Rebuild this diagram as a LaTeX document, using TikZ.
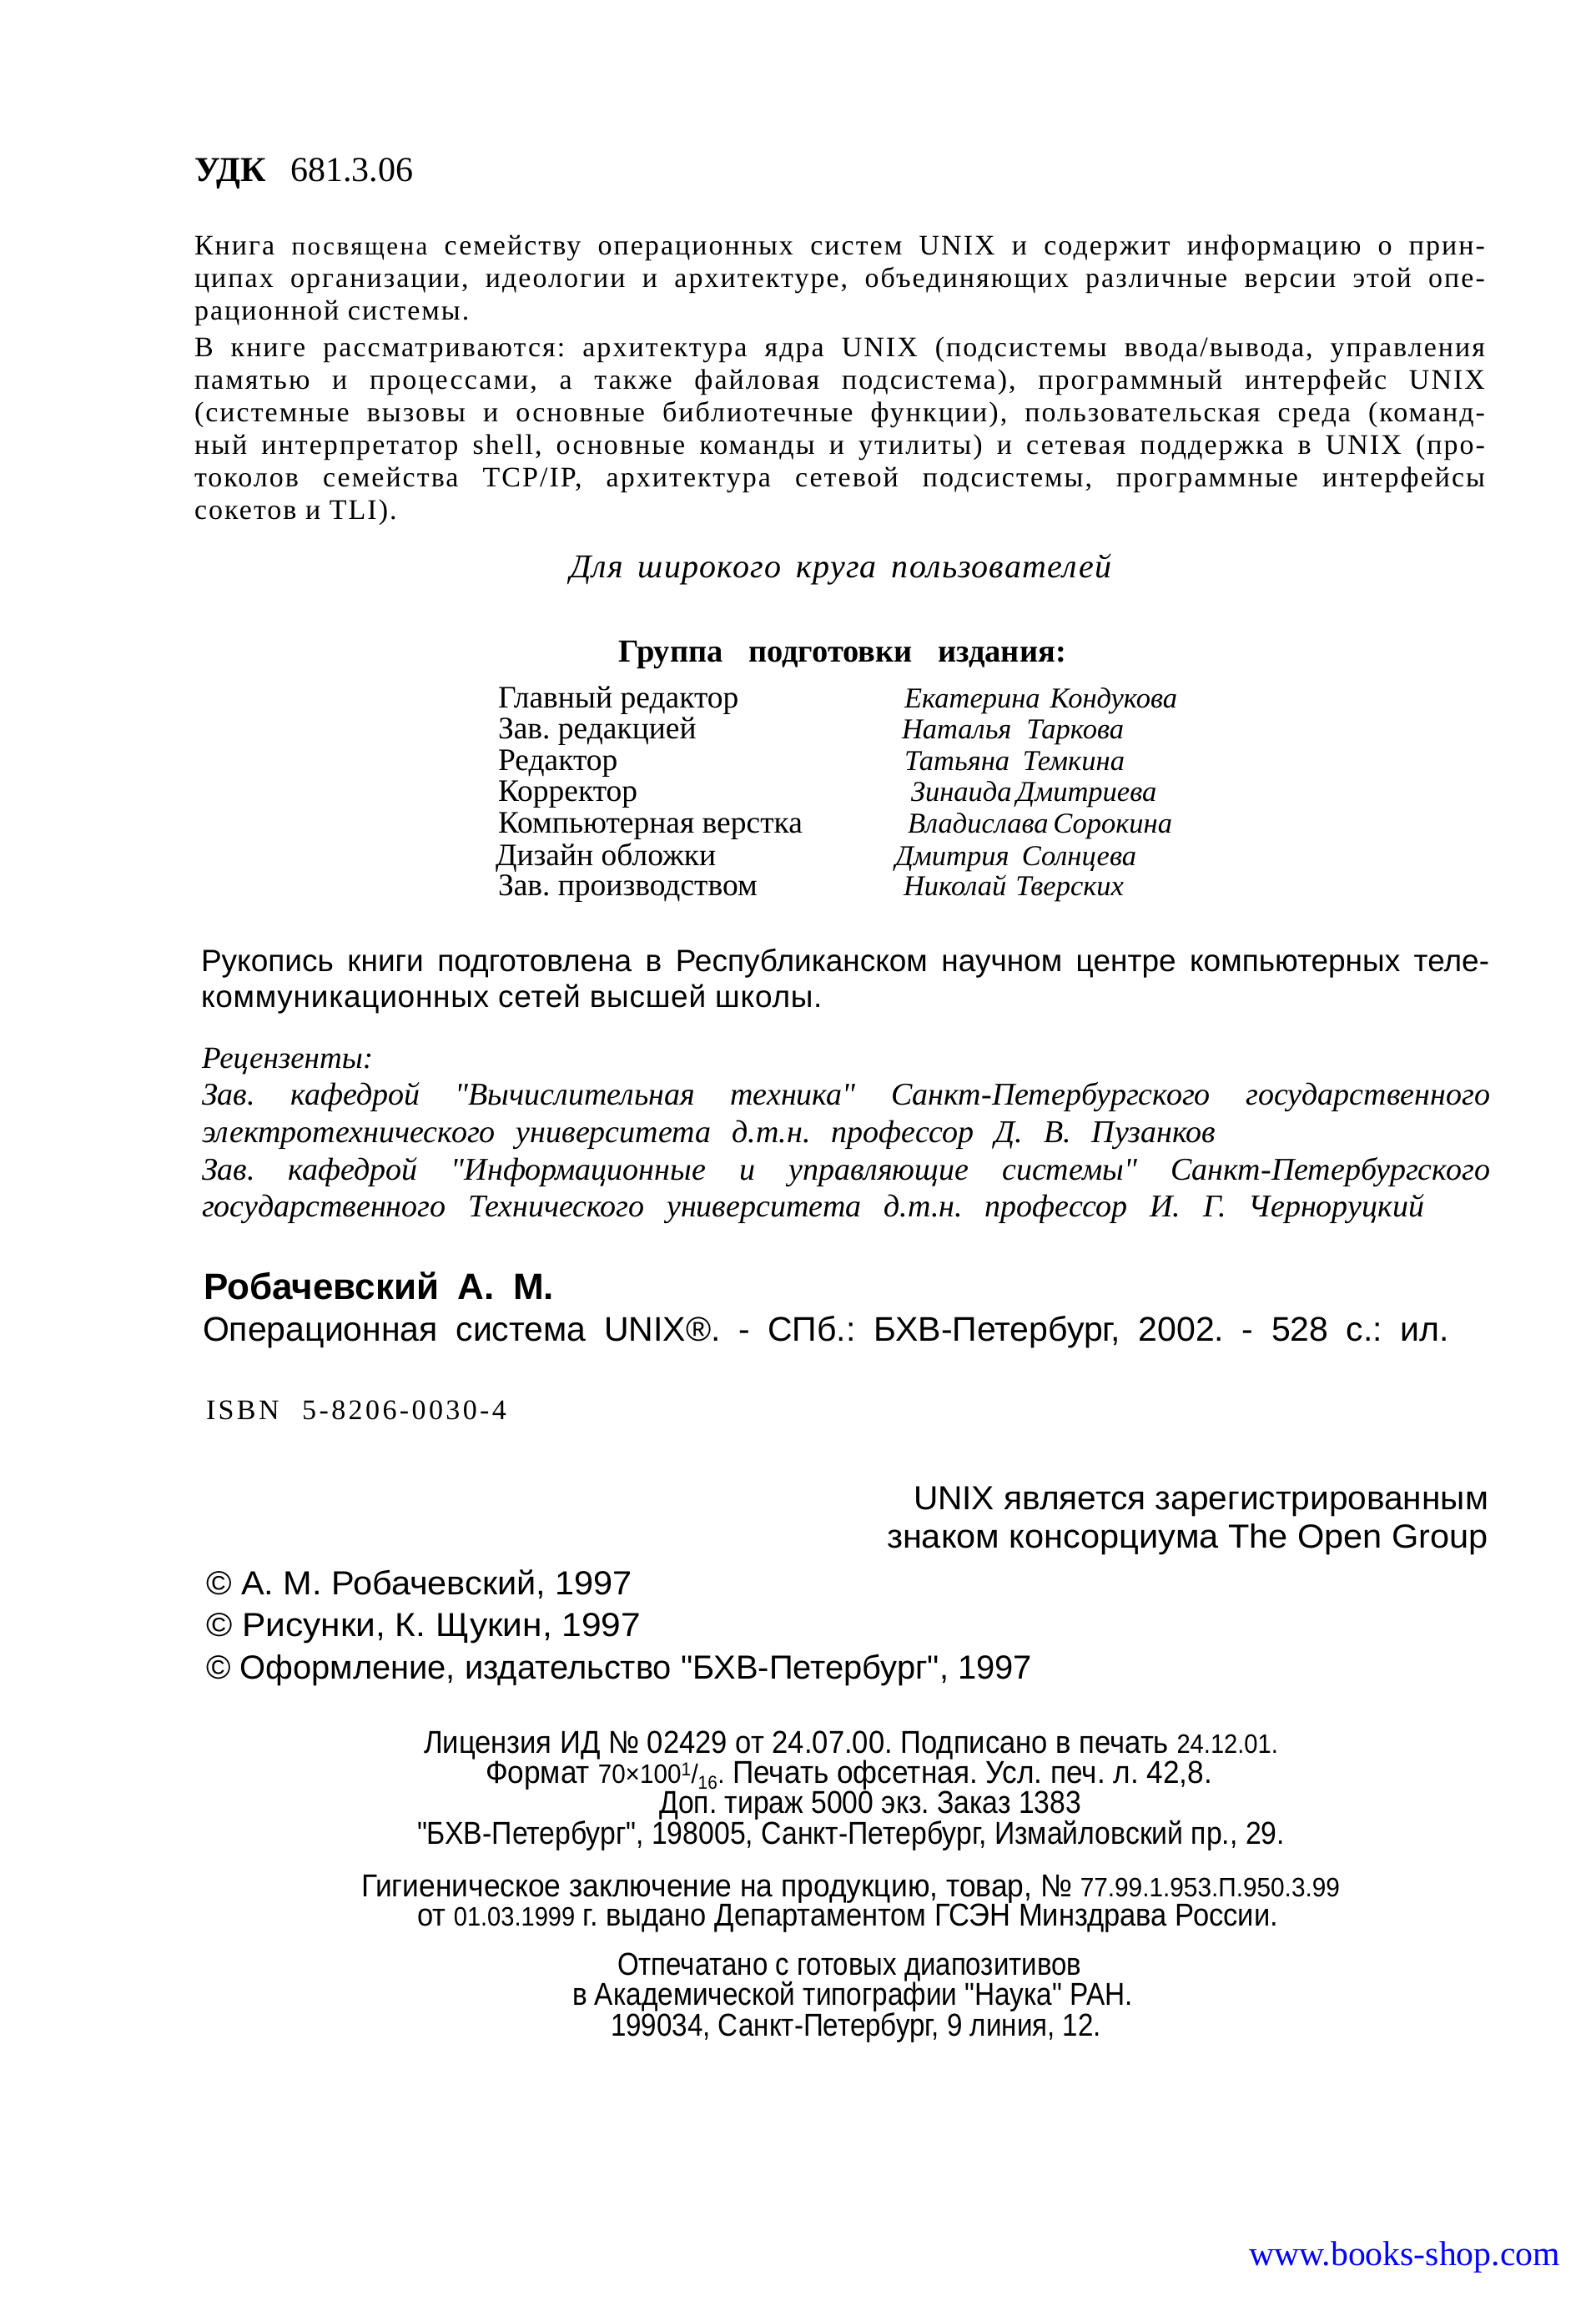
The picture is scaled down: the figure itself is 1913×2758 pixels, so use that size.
\documentclass[tikz,border=0pt]{standalone}
\usepackage{fontspec}
\usepackage{graphicx}
\setmainfont{Liberation Serif}
\newfontfamily\sansf{Liberation Sans}
\definecolor{linkblue}{RGB}{0,0,255}
\frenchspacing
\newcommand\fsz[1]{\fontsize{#1}{#1}\selectfont}
\newcommand\ls[1]{\addfontfeature{LetterSpace=#1}}
\newcommand\jline[2]{\makebox[#1pt][s]{#2}}
\newcommand\fitline[2]{\resizebox{#1pt}{\height}{#2}}
\newcommand\smd[1]{{\fontsize{32}{32}\selectfont #1}}
\newcommand\dq{\textquotedbl}
\tikzset{
  txt/.style={anchor=base west,inner sep=0pt,outer sep=0pt},
  body/.style={txt,font=\fsz{34}\ls{6}},
  tabl/.style={txt,font=\fsz{37.5}},
  tabr/.style={txt,font=\fsz{34.5}\itshape},
  revw/.style={txt,font=\fsz{38}\itshape},
  sansl/.style={txt,font=\sansf\fsz{37}},
  copyl/.style={txt,font=\sansf\fsz{40}},
  licl/.style={txt,font=\sansf\fsz{38}},
}
\begin{document}
\begin{tikzpicture}[x=1pt,y=-1pt]
\path[fill=white,use as bounding box] (0,0) rectangle (1913,2758);

% UDK
\node[txt,font=\fsz{42}] (udk) at (233,217) {\jline{262}{{\bfseries УДК} 681.3.06}};

% paragraph 1
\node[body] (p1a) at (233,305) {\jline{1547}{Книга {\fsz{31}\ls{8}посвящена} семейству операционных систем UNIX и содержит информацию о прин-}};
\node[body] (p1b) at (233,344) {\jline{1547}{ципах организации, идеологии и архитектуре, объединяющих различные версии этой опе-}};
\node[body] (p1c) at (233,383) {рационной системы.};

% paragraph 2
\node[body] (p2a) at (233,427) {\jline{1547}{В книге рассматриваются: архитектура ядра UNIX (подсистемы ввода/вывода, управления}};
\node[body] (p2b) at (233,466) {\jline{1547}{памятью и процессами, а также файловая подсистема), программный интерфейс UNIX}};
\node[body] (p2c) at (233,505) {\jline{1547}{(системные вызовы и основные библиотечные функции), пользовательская среда (команд-}};
\node[body] (p2d) at (233,544) {\jline{1547}{ный интерпретатор shell, основные команды и утилиты) и сетевая поддержка в UNIX (про-}};
\node[body] (p2e) at (233,583) {\jline{1547}{токолов семейства TCP/IP, архитектура сетевой подсистемы, программные интерфейсы}};
\node[body] (p2f) at (233,622) {сокетов и TLI).};

% audience
\node[txt,font=\fsz{40}\itshape\ls{3}] (aud) at (683,692) {\jline{649}{Для широкого круга пользователей}};

% group heading
\node[txt,font=\fsz{38.5}\bfseries] (grp) at (741,793) {\jline{537}{Группа подготовки издания:}};

% table
\node[tabl] (l1) at (597,848) {Главный редактор};
\node[tabl] (l2) at (597,885) {Зав. редакцией};
\node[tabl] (l3) at (597,923) {Редактор};
\node[tabl] (l4) at (597,960) {Корректор};
\node[tabl] (l5) at (597,998) {Компьютерная верстка};
\node[tabl] (l6) at (594,1037) {Дизайн обложки};
\node[tabl] (l7) at (597,1073) {Зав. производством};
\node[tabr] (r1) at (1084,848) {\jline{327}{Екатерина Кондукова}};
\node[tabr] (r2) at (1081,885) {\jline{266}{Наталья Таркова}};
\node[tabr] (r3) at (1084,923) {\jline{264}{Татьяна Темкина}};
\node[tabr] (r4) at (1092,960) {\jline{284}{Зинаида Дмитриева}};
\node[tabr] (r5) at (1088,998) {\jline{310}{Владислава Сорокина}};
\node[tabr] (r6) at (1073,1037) {\jline{289}{Дмитрия Солнцева}};
\node[tabr] (r7) at (1083,1073) {\jline{264}{Николай Тверских}};

% manuscript
\node[sansl] (m1) at (241,1164) {\jline{1544}{Рукопись книги подготовлена в Республиканском научном центре компьютерных теле-}};
\node[sansl,font=\sansf\fsz{37}\ls{2}] (m2) at (241,1207) {коммуникационных сетей высшей школы.};

% reviewers
\node[revw,font=\fsz{37}\itshape] (rv0) at (242,1280) {Рецензенты:};
\node[revw] (rv1) at (242,1324) {\jline{1544}{Зав. кафедрой \dq Вычислительная техника\dq{} Санкт-Петербургского государственного}};
\node[revw] (rv2) at (242,1369) {\jline{1215}{электротехнического университета д.т.н. профессор Д. В. Пузанков}};
\node[revw] (rv3) at (242,1414) {\jline{1544}{Зав. кафедрой \dq Информационные и управляющие системы\dq{} Санкт-Петербургского}};
\node[revw] (rv4) at (242,1458) {\jline{1465}{государственного Технического университета д.т.н. профессор И. Г. Черноруцкий}};

% author and title
\node[txt,font=\sansf\fsz{44}\bfseries] (auth) at (244,1557) {\jline{420}{Робачевский А. М.}};
\node[txt,font=\sansf\fsz{41}] (ttl) at (243,1607) {\jline{1494}{Операционная система UNIX®. - СПб.: БХВ-Петербург, 2002. - 528 с.: ил.}};

% ISBN
\node[txt,font=\fsz{34}\ls{10}] (isbn) at (247,1701) {\jline{360}{ISBN 5-8206-0030-4}};

% trademark
\node[copyl] (tm1) at (1095,1809) {\fitline{689}{UNIX является зарегистрированным}};
\node[copyl] (tm2) at (1063,1855) {\fitline{721}{знаком консорциума The Open Group}};

% copyrights
\node[copyl] (c1) at (247,1911) {\fitline{511}{© А. М. Робачевский, 1997}};
\node[copyl] (c2) at (247,1961) {\fitline{521}{© Рисунки, К. Щукин, 1997}};
\node[copyl] (c3) at (247,2012) {\fitline{990}{© Оформление, издательство "БХВ-Петербург", 1997}};

% license block
\node[licl] (k1) at (508,2101) {\fitline{1024}{Лицензия ИД № 02429 от 24.07.00. Подписано в печать \smd{24.12.01.}}};
\node[licl] (k2) at (582,2137) {\fitline{871}{Формат \smd{70×100\textsuperscript{1}/\textsubscript{16}.} Печать офсетная. Усл. печ. л. 42,8.}};
\node[licl] (k3) at (790,2173) {\fitline{506}{Доп. тираж 5000 экз. Заказ 1383}};
\node[licl] (k4) at (500,2210) {\fitline{1040}{"БХВ-Петербург", 198005, Санкт-Петербург, Измайловский пр., 29.}};
\node[licl] (k5) at (433,2273) {\fitline{1173}{Гигиеническое заключение на продукцию, товар, № \smd{77.99.1.953.П.950.3.99}}};
\node[licl] (k6) at (500,2308) {\fitline{1032}{от \smd{01.03.1999} г. выдано Департаментом ГСЭН Минздрава России.}};
\node[licl] (k7) at (740,2367) {\fitline{556}{Отпечатано с готовых диапозитивов}};
\node[licl] (k8) at (686,2403) {\fitline{672}{в Академической типографии "Наука" РАН.}};
\node[licl] (k9) at (732,2440) {\fitline{588}{199034, Санкт-Петербург, 9 линия, 12.}};

% web address
\node[txt,font=\fsz{41.5},text=linkblue] (www) at (1497,2715) {\fitline{373}{www.books-shop.com}};
\end{tikzpicture}
\end{document}
